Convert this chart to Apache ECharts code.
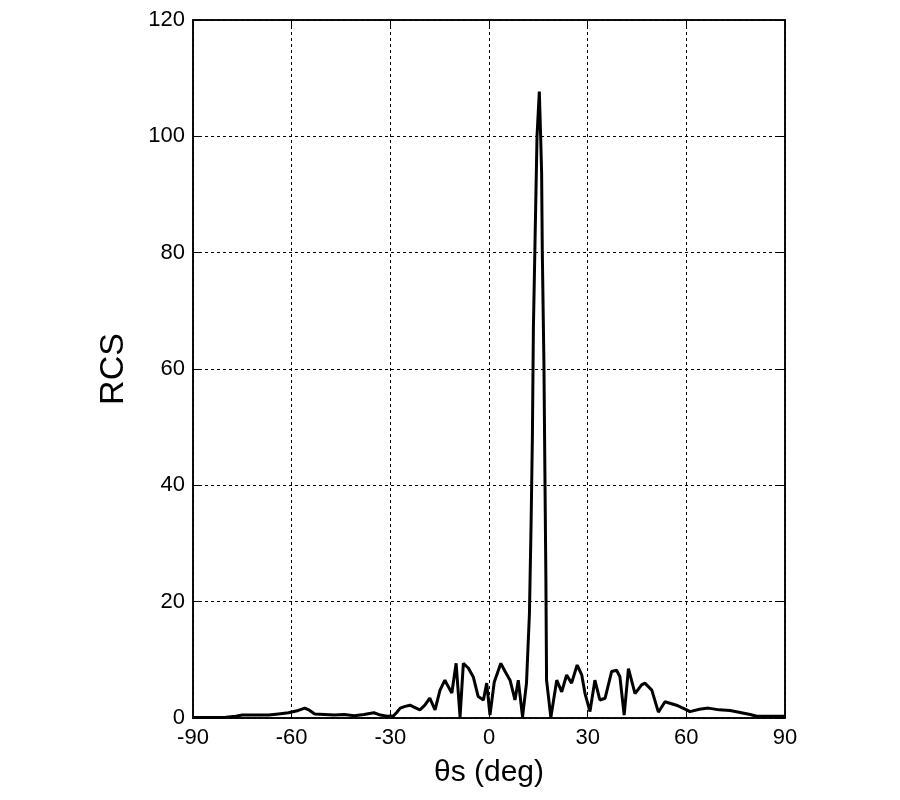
<!DOCTYPE html>
<html>
<head>
<meta charset="utf-8">
<script src="https://cdn.jsdelivr.net/npm/echarts@6/dist/echarts.min.js"></script>
<style>html,body{margin:0;padding:0;background:#fff}#c{width:900px;height:800px}</style>
</head>
<body>
<div id="c"></div>
<script>
const thetaDeg = [-90,-85,-80,-77,-75,-70,-67,-64,-61,-58,-56,-54.5,-53,-50,-47,-44,-41,-38,-35,-33,-31,-29,-28,-27,-25.5,-24,-22.5,-21,-19.5,-18,-16.4,-14.9,-13.4,-12.4,-11.3,-10,-8.8,-7.8,-6.3,-4.8,-3.3,-1.7,-0.7,0.3,1.6,3.6,4.9,6.4,7.9,8.9,10.2,11.4,12.3,12.8,13.2,13.5,14,14.6,15.3,15.7,16,16.2,16.7,17,17.3,17.5,18.8,20.6,22.1,23.6,25.1,26.8,28.2,29.2,30.7,32.2,33.7,35.3,37.3,38.8,39.8,41.1,42.4,44.4,46.4,47.4,49.5,51.5,53.5,57,60.1,61.1,64,66.7,70,73.3,76,79.4,81.4,85,90];
const rcsValues = [0.1,0.1,0.15,0.3,0.5,0.5,0.5,0.7,0.9,1.3,1.7,1.3,0.7,0.6,0.5,0.6,0.4,0.6,0.9,0.5,0.3,0.4,1.0,1.7,2.0,2.2,1.8,1.4,2.2,3.4,1.4,4.8,6.5,5.4,4.3,9.4,0.2,9.4,8.6,7.1,3.7,3.1,6,0.5,6.2,9.4,8,6.5,3.1,6.5,0.2,6,18,33.5,48.6,67,82,100,107.7,100,93.7,80.4,61,42,23.7,6.5,0.1,6.5,4.5,7.4,6,9.1,7.4,4.2,1.1,6.5,3.1,3.4,8,8.2,7.1,0.5,8.5,4.2,5.7,6,4.8,1,2.8,2.2,1.4,1.1,1.5,1.7,1.4,1.3,1.0,0.6,0.3,0.3,0.3];
const xTicks = [-90,-60,-30,0,30,60,90];
const yTicks = [0,20,40,60,80,100,120];

const chart = echarts.init(document.getElementById('c'), null, {renderer:'canvas'});
const font = '"Liberation Sans", Arial, sans-serif';
const dashed = {show:true, lineStyle:{color:'#000', type:[3,3], width:1}};
const pairs = thetaDeg.map((t,i)=>[t, rcsValues[i]]);
chart.setOption({
  animation:false,
  backgroundColor:'#fff',
  grid:{left:193, right:115, top:20, bottom:82, outerBoundsMode:'none', containLabel:false, show:true, borderColor:'#000', borderWidth:1.5, backgroundColor:'transparent'},
  xAxis:[{
    type:'value', min:-90, max:90, interval:30,
    name:'θs (deg)', nameLocation:'middle', nameGap:40,
    nameTextStyle:{fontFamily:font, fontSize:30, color:'#000', verticalAlign:'top'},
    axisLine:{show:true, onZero:false, lineStyle:{color:'#000', width:1.5}},
    axisTick:{show:true, inside:true, length:7, lineStyle:{color:'#000'}},
    axisLabel:{fontFamily:font, fontSize:22, color:'#000', margin:9},
    splitLine:dashed
  },{
    type:'value', min:-90, max:90, interval:30, position:'top',
    axisLine:{show:true, onZero:false, lineStyle:{color:'#000', width:1.5}},
    axisTick:{show:true, inside:true, length:7, lineStyle:{color:'#000'}},
    axisLabel:{show:false}, splitLine:{show:false}
  }],
  yAxis:[{
    type:'value', min:0, max:120, interval:20,
    name:'RCS', nameLocation:'middle', nameGap:62, nameRotate:90,
    nameTextStyle:{fontFamily:font, fontSize:34, color:'#000'},
    axisLine:{show:true, onZero:false, lineStyle:{color:'#000', width:1.5}},
    axisTick:{show:true, inside:true, length:7, lineStyle:{color:'#000'}},
    axisLabel:{fontFamily:font, fontSize:22, color:'#000', margin:8},
    splitLine:dashed
  },{
    type:'value', min:0, max:120, interval:20, position:'right',
    axisLine:{show:true, onZero:false, lineStyle:{color:'#000', width:1.5}},
    axisTick:{show:true, inside:true, length:7, lineStyle:{color:'#000'}},
    axisLabel:{show:false}, splitLine:{show:false}
  }],
  series:[{
    type:'line', data:pairs, showSymbol:false, symbol:'none',
    lineStyle:{color:'#000', width:3}, smooth:false, clip:true
  }]
});
</script>
</body>
</html>
